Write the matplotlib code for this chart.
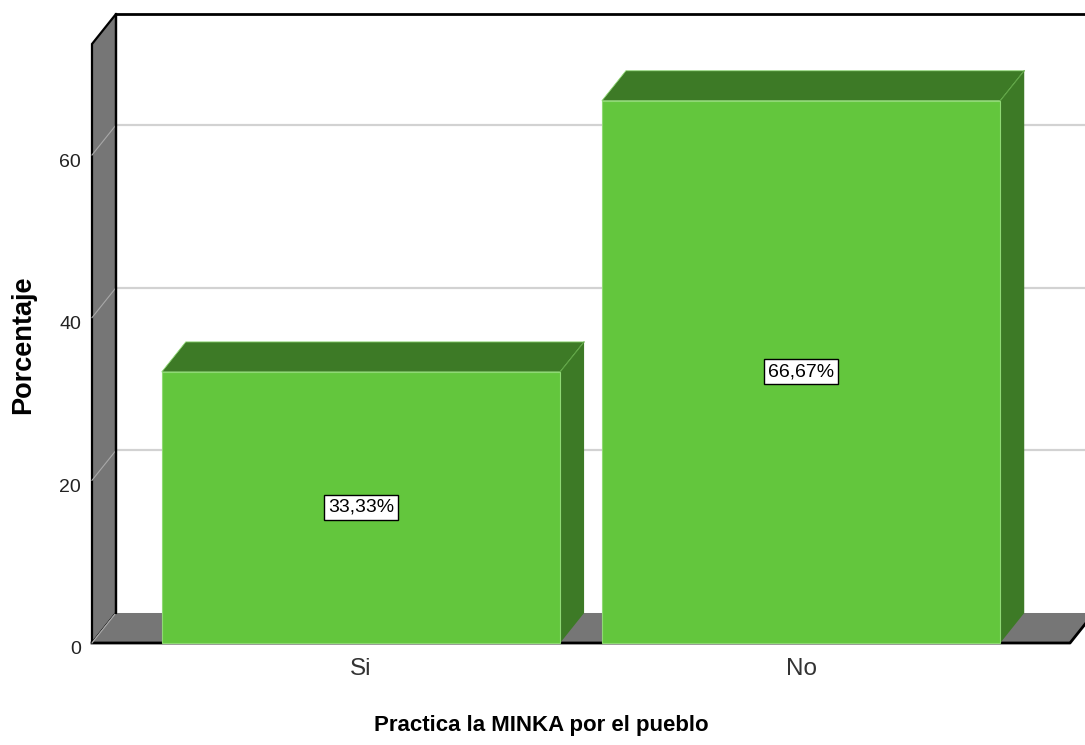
import matplotlib
matplotlib.use('Agg')
import matplotlib.pyplot as plt
import matplotlib.transforms as mtransforms
from matplotlib.patches import Polygon

# data
categories = ['Si', 'No']
percentages = [33.33, 66.67]
y_ticks = [0, 20, 40, 60]

# colours
front_green = '#63c63d'
dark_green = '#3d7a26'
edge_green = '#8fd974'
wall_gray = '#767676'
grid_gray = '#d2d2d2'

plt.rcParams['font.family'] = ['Liberation Sans', 'DejaVu Sans']

W, H = 1085, 745
fig = plt.figure(figsize=(W / 100, H / 100), dpi=100)
ax = fig.add_axes([92 / W, 102 / H, 978 / W, 599 / H])

x_lo, x_hi = -0.611, 1.611
y_hi = 73.65
ax.set_xlim(x_lo, x_hi)
ax.set_ylim(0, y_hi)

# depth of the 3D effect, in data units
dx, dy = 0.0545, 3.69
bar_w = 0.905

# back wall top edge and gridlines on the back plane
ax.plot([x_lo + dx, x_hi + 2 * dx], [y_hi + dy, y_hi + dy], color='black', lw=2,
        clip_on=False, zorder=1, solid_capstyle='butt')
for v in y_ticks[1:]:
    ax.plot([x_lo + dx, x_hi + 2 * dx], [v + dy, v + dy], color=grid_gray, lw=1.6,
            clip_on=False, zorder=1)

# left wall
ax.add_patch(Polygon([(x_lo, 0), (x_lo + dx, dy), (x_lo + dx, y_hi + dy), (x_lo, y_hi)],
                     closed=True, fc=wall_gray, ec='black', lw=1.6, clip_on=False, zorder=2,
                     joinstyle='miter'))
for v in y_ticks:
    ax.plot([x_lo, x_lo + dx], [v, v + dy], color='#a8a8a8', lw=0.8, clip_on=False, zorder=2)

# floor
ax.add_patch(Polygon([(x_lo, 0), (x_hi, 0), (x_hi + dx, dy), (x_lo + dx, dy)],
                     closed=True, fc=wall_gray, ec='none', clip_on=False, zorder=2))
ax.plot([x_lo, x_hi, x_hi + dx], [0, 0, dy], color='black', lw=2, clip_on=False, zorder=2)
ax.plot([x_lo, x_lo + dx], [0, dy], color='#a8a8a8', lw=0.8, clip_on=False, zorder=2)
ax.plot([x_lo + dx, x_lo + dx], [dy, y_hi + dy], color='black', lw=1.6, clip_on=False, zorder=2)

# bars: front faces through ax.bar, then top and side faces
xs = list(range(len(categories)))
bars = ax.bar(xs, percentages, bar_w, color=front_green, edgecolor=edge_green,
              linewidth=0.8, zorder=4, clip_on=False)
for x, h in zip(xs, percentages):
    l, r = x - bar_w / 2, x + bar_w / 2
    ax.add_patch(Polygon([(l, h), (r, h), (r + dx, h + dy), (l + dx, h + dy)],
                         closed=True, fc=dark_green, ec=edge_green, lw=0.6,
                         clip_on=False, zorder=3))
    ax.add_patch(Polygon([(r, 0), (r + dx, dy), (r + dx, h + dy), (r, h)],
                         closed=True, fc=dark_green, ec='none', clip_on=False, zorder=3))
    ax.plot([r, r + dx], [h, h + dy], color='#5fa445', lw=0.8, clip_on=False, zorder=3)
    txt = f'{h:.2f}%'.replace('.', ',')
    ax.text(x, h / 2, txt, ha='center', va='center', fontsize=14, color='black', zorder=5,
            bbox=dict(boxstyle='square,pad=0.2', fc='white', ec='black', lw=1))

# axes styling
for s in ax.spines.values():
    s.set_visible(False)
ax.set_yticks(y_ticks)
ax.set_xticks(xs, categories)
ax.tick_params(axis='y', length=0, pad=8, labelsize=14, labelcolor='#222222')
ax.tick_params(axis='x', length=0, pad=11, labelsize=17.5, labelcolor='#333333')
offset = mtransforms.ScaledTranslation(0, -5 / 100, fig.dpi_scale_trans)
for lab in ax.get_yticklabels():
    lab.set_transform(lab.get_transform() + offset)

fig.text(23 / W, 1 - 345 / H, 'Porcentaje', rotation=90, ha='center', va='center',
         fontsize=19.5, fontweight='bold')
fig.text(541 / W, 1 - 725 / H, 'Practica la MINKA por el pueblo', ha='center', va='center',
         fontsize=16, fontweight='bold')

fig.savefig('out.png', dpi=100)
